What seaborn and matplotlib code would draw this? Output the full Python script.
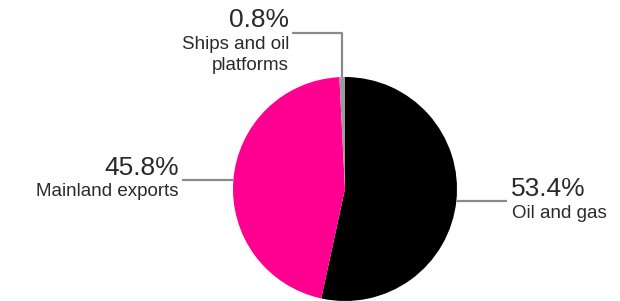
import numpy as np
import matplotlib
matplotlib.use("Agg")
import matplotlib.pyplot as plt
import seaborn as sns

labels = ["Oil and gas", "Mainland exports", "Ships and oil\nplatforms"]
shares = [53.4, 45.8, 0.8]
colors = ["#000000", "#ff0090", "#9a9a9a"]

sns.set_theme(style="white")
plt.rcParams["font.family"] = ["Liberation Sans", "DejaVu Sans"]

W, H = 620, 301
fig = plt.figure(figsize=(W / 100, H / 100), dpi=100)
ax = fig.add_axes([0, 0, 1, 1])

cx, cy, r = 345, H - 189, 112
wedges, _ = ax.pie(shares, colors=colors, startangle=90, counterclock=False,
                   center=(cx, cy), radius=r, frame=True,
                   wedgeprops=dict(linewidth=0))
ax.set_xlim(0, W)
ax.set_ylim(0, H)
ax.set_aspect("equal")
ax.axis("off")

line_kw = dict(color="#8a8a8a", lw=1.6, solid_capstyle="butt")
txt = "#2a2a2a"
pct_fs, lab_fs = 19, 13.5


def mid_point(w):
    a = np.deg2rad((w.theta1 + w.theta2) / 2)
    return cx + r * np.cos(a), cy + r * np.sin(a)


# Oil and gas: right
x0, y = mid_point(wedges[0])
ax.plot([x0, 507], [y, y], **line_kw)
ax.text(511, y + 5, f"{shares[0]}%", ha="left", va="baseline", fontsize=pct_fs, color=txt)
ax.text(512, y - 4, labels[0], ha="left", va="top", fontsize=lab_fs, color=txt)

# Mainland exports: left
x0, y = mid_point(wedges[1])
ax.plot([x0, 182], [y, y], **line_kw)
ax.text(179, y + 5, f"{shares[1]}%", ha="right", va="baseline", fontsize=pct_fs, color=txt)
ax.text(179, y - 3, labels[1], ha="right", va="top", fontsize=lab_fs, color=txt)

# Ships: top
x, y0 = mid_point(wedges[2])
yt = H - 33
ax.plot([x, x, 292], [y0, yt, yt], **line_kw)
ax.text(289, H - 27, f"{shares[2]}%", ha="right", va="baseline", fontsize=pct_fs, color=txt)
ax.text(289, H - 36, labels[2], ha="right", va="top", fontsize=lab_fs, color=txt,
        multialignment="right", linespacing=1.3)

fig.savefig("out.png", dpi=100)
